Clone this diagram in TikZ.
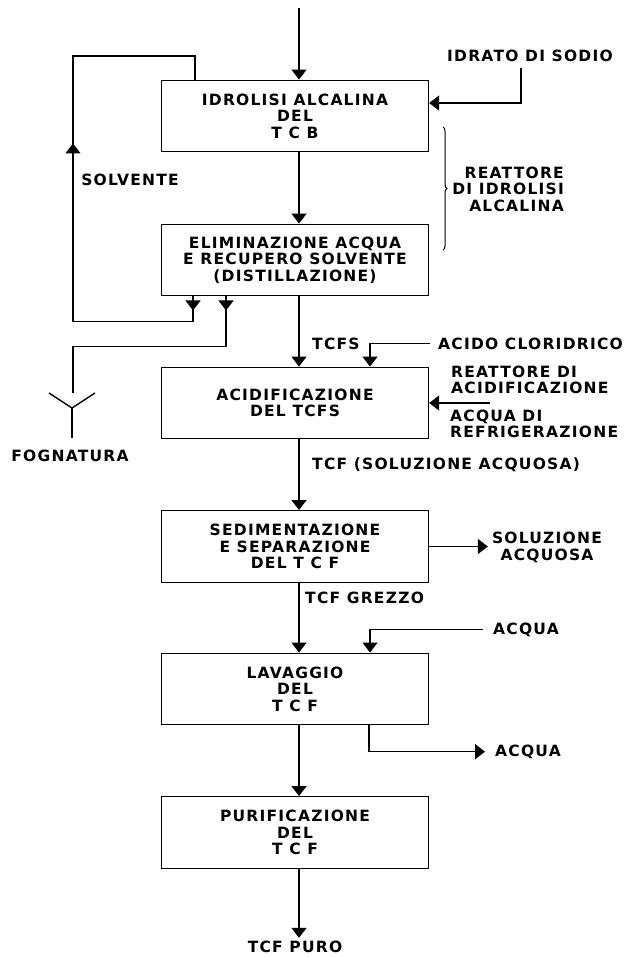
\documentclass[tikz,border=0pt]{standalone}
\usepackage{fontspec}
\setmainfont{DejaVu Sans}[LetterSpace=8]
\usetikzlibrary{arrows.meta}
\usetikzlibrary{decorations.pathreplacing}
\usetikzlibrary{decorations.markings}
\newcommand{\flowtip}{\arrow{Triangle[width=15pt,length=10pt]}}
\tikzset{
  every node/.style={font=\fontsize{15.5}{16.5}\selectfont\bfseries},
  stage/.style={draw, line width=1.4pt, minimum width=267pt, minimum height=71.5pt, align=center, inner sep=0pt},
  flow/.style={line width=1.4pt, -{Triangle[width=15pt,length=10pt]}},
  pipe/.style={line width=1.4pt},
  lab/.style={inner sep=2pt},
}

\begin{document}
\begin{tikzpicture}[x=1pt,y=-1pt]
  \useasboundingbox (0,0) rectangle (629,957);
  % process stages
  \foreach \x/\y/\lab/\txt in {
    295/116/b1/{IDROLISI ALCALINA\\DEL\\T C B},
    295/260/b2/{ELIMINAZIONE ACQUA\\E RECUPERO SOLVENTE\\(DISTILLAZIONE)},
    295/403/b3/{ACIDIFICAZIONE\\DEL TCFS},
    295/546.5/b4/{SEDIMENTAZIONE\\E SEPARAZIONE\\DEL T C F},
    295/689/b5/{LAVAGGIO\\DEL\\T C F},
    295/832.5/b6/{PURIFICAZIONE\\DEL\\T C F}%
  } {
    \node[stage] (\lab) at (\x, \y) {\txt};
  }
  % labels
  \node[lab, anchor=base] (idrato) at (530,61.3) {IDRATO DI SODIO};
  \node[lab, anchor=east, align=right] (reatt) at (566,189) {REATTORE\\DI IDROLISI\\ALCALINA};
  \node[lab, anchor=base] (solv) at (130,185.3) {SOLVENTE};
  \node[lab, anchor=base] (fogn) at (70,461.3) {FOGNATURA};
  \node[lab, anchor=base west] (tcfs) at (310,349.3) {TCFS};
  \node[lab, anchor=base west] (acido) at (436,349.3) {ACIDO CLORIDRICO};
  \node[lab, anchor=west, align=left] (reacid) at (449,380) {REATTORE DI\\ACIDIFICAZIONE};
  \node[lab, anchor=west, align=left] (refr) at (448,424) {ACQUA DI\\REFRIGERAZIONE};
  \node[lab, anchor=base west] (tcfsol) at (310,469.3) {TCF (SOLUZIONE ACQUOSA)};
  \node[lab, anchor=center, align=center] (soluz) at (547,547.5) {SOLUZIONE\\ACQUOSA};
  \node[lab, anchor=base west] (grezzo) at (303,603.3) {TCF GREZZO};
  \node[lab, anchor=base west] (acqin) at (491,634.3) {ACQUA};
  \node[lab, anchor=base west] (acqout) at (493,756.3) {ACQUA};
  \node[lab, anchor=base, inner sep=3pt] (puro) at (295,952.5) {TCF PURO};

  \coordinate (feed) at (299,8);
  \coordinate (loopc) at (73,56);
  \coordinate (fogtop) at (73,393);
  \coordinate (fogl) at (49,393);
  \coordinate (fogr) at (95,393);
  \coordinate (fogj) at (72,408);
  \coordinate (fogbot) at (72,438);
  \coordinate (refrin) at (490,403);
  \coordinate (brtop) at (443,127);
  \coordinate (brbot) at (443,250);

  % main line
  \draw[flow] (feed) -- ([xshift=4pt]b1.north);
  \foreach \u/\v in {
    b1/b2,
    b2/b3,
    b3/b4,
    b4/b5,
    b5/b6,
    b6/puro%
  }{
    \draw[flow] ([xshift=4pt]\u.south) -- ([xshift=4pt]\v.north);
  }

  % side streams
  \draw[flow, shorten <=4.5pt] ([xshift=-9pt]idrato.south) |- ([yshift=13pt]b1.east);
  \draw[pipe, postaction={decorate}, decoration={markings,
      mark=at position 14pt with {\flowtip},
      mark=at position 323pt with {\flowtip}}]
    ([xshift=-102pt]b2.south) -- ++(0,25) -| (loopc) -| ([xshift=-100pt]b1.north);
  \draw[pipe, postaction={decorate}, decoration={markings,
      mark=at position 14pt with {\flowtip}}]
    ([xshift=-69pt]b2.south) -- ++(0,50) -| (fogtop);
  \draw[pipe] (fogl) -- (fogj) -- (fogr);
  \draw[pipe] (fogj) -- (fogbot);
  \draw[flow, shorten <=6pt] (acido.west) -| ([xshift=75pt]b3.north);
  \draw[flow] (refrin) -- (b3.east);
  \draw[flow, shorten >=2pt] (b4.east) -- (b4.east -| soluz.west);
  \draw[flow, shorten <=8pt] (acqin.west) -| ([xshift=75pt]b5.north);
  \draw[flow, shorten >=8pt] ([xshift=74pt]b5.south) |- (acqout.west);

  % reactor brace
  \draw[line width=1pt, decorate, decoration={brace, amplitude=4pt}] (brtop) -- (brbot);
\end{tikzpicture}
\end{document}
